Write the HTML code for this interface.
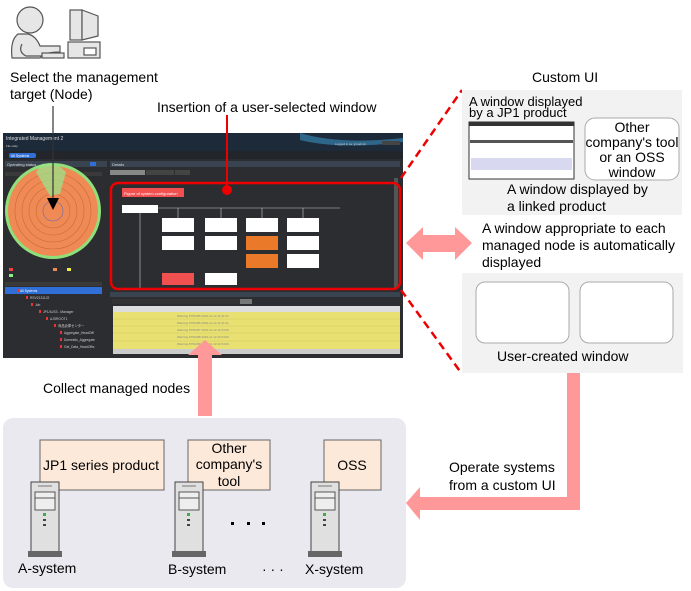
<!DOCTYPE html>
<html><head><meta charset="utf-8"><style>
body{margin:0;background:#fff;}
svg{display:block;font-family:"Liberation Sans",Arial,sans-serif;}
</style></head><body>
<svg width="691" height="591" viewBox="0 0 691 591" xmlns="http://www.w3.org/2000/svg">
<g stroke="#555" stroke-width="1.2" fill="#e6e6e6">
<circle cx="30" cy="20" r="13"/>
<path d="M18 34 Q10 40 12 58 L40 58 Q44 52 60 52 L60 46 L40 46 Q36 36 28 34 Z"/>
<path d="M22 44 Q18 52 26 56 L44 56" fill="none"/>
<rect x="42" y="53" width="22" height="5"/>
<rect x="70" y="10" width="12" height="30"/>
<path d="M82 10 L98 16 L98 36 L82 40 Z"/>
<rect x="68" y="42" width="32" height="16"/>
<rect x="84" y="48" width="12" height="7" fill="#fff"/>
</g>
<g font-size="14" fill="#000">
<text x="10" y="82">Select the management</text>
<text x="10" y="99">target  (Node)</text>
<text x="157" y="112">Insertion of a user-selected window</text>
<text x="532" y="82">Custom UI</text>
<text x="43" y="393">Collect managed nodes</text>
</g>
<rect x="3" y="133" width="400" height="225" fill="#2b2d30"/>
<rect x="3" y="133" width="400" height="18" fill="#1d2a3a"/>
<path d="M300 133 Q340 145 403 138 L403 142 Q340 150 300 140Z" fill="#3a8fc0" opacity=".6"/>
<text x="6" y="140" font-size="5" fill="#ddd">Integrated Management 2</text>
<text x="6" y="147" font-size="3" fill="#ccc">File   Help</text>
<text x="335" y="145" font-size="3" fill="#ccc">Logged in as: jp1admin</text>
<rect x="382" y="141" width="18" height="4" fill="#444"/>
<rect x="3" y="151" width="400" height="8" fill="#22262a"/>
<rect x="9" y="153" width="27" height="5" rx="2" fill="#2f6fd6"/>
<text x="11" y="157" font-size="3.5" fill="#fff">All Systems</text>
<rect x="5" y="161" width="102" height="6" fill="#3a4450"/>
<text x="7" y="166" font-size="4" fill="#ddd">Operating status</text>
<rect x="90" y="162" width="6" height="4" fill="#2f6fd6"/>
<rect x="5" y="172" width="97" height="4" fill="#3a3a3a"/>
<rect x="110" y="161" width="290" height="6" fill="#3a4450"/>
<text x="112" y="166" font-size="4" fill="#ddd">Details</text>
<rect x="110" y="170" width="35" height="5" fill="#888"/>
<rect x="146" y="170" width="28" height="5" fill="#444"/>
<rect x="175" y="170" width="15" height="5" fill="#444"/>
<circle cx="53" cy="211" r="48" fill="#8fe07a"/>
<circle cx="53" cy="211" r="45" fill="#f08a55"/>
<g fill="none" stroke="#c8683c" stroke-width=".6">
<circle cx="53" cy="211" r="38"/><circle cx="53" cy="211" r="31"/><circle cx="53" cy="211" r="24"/><circle cx="53" cy="211" r="17"/>
</g>
<path d="M36 172 L42 164 L50 163 L58 165 L66 172 L60 194 L50 196Z" fill="#9be18a" opacity=".75"/>
<circle cx="53" cy="211" r="10" fill="#f08a55" stroke="#6a6ab0" stroke-width=".6"/>
<rect x="9" y="268" width="4" height="3" fill="#e44"/><rect x="53" y="268" width="4" height="3" fill="#f08a55"/><rect x="67" y="268" width="4" height="3" fill="#ee4"/><rect x="9" y="274" width="4" height="3" fill="#8e8"/>
<rect x="5" y="282" width="97" height="4" fill="#3a3a3a"/>
<rect x="5" y="287" width="97" height="7" fill="#2f6fd6"/>
<g fill="#ccc" font-size="3.3">
<text x="20" y="292" fill="#fff">All Systems</text>
<text x="30" y="299">RSV2131122</text><text x="35" y="306">Job</text><text x="43" y="313">JP1/AJS3 - Manager</text>
<text x="50" y="320">AJSROOT1</text><text x="58" y="327">商品倉庫センター</text>
<text x="64" y="334">Aggregate_HeadOffi</text><text x="64" y="341">Domestic_Aggregate</text><text x="64" y="348">Get_Data_HeadOffic</text>
</g>
<g fill="#e33"><rect x="18" y="289" width="2" height="3"/><rect x="26" y="296" width="2" height="3"/><rect x="31" y="303" width="2" height="3"/><rect x="39" y="310" width="2" height="3"/><rect x="46" y="317" width="2" height="3"/><rect x="54" y="324" width="2" height="3"/><rect x="60" y="331" width="2" height="3"/><rect x="60" y="338" width="2" height="3"/><rect x="60" y="345" width="2" height="3"/></g>
<rect x="122" y="188" width="62" height="9" fill="#f05050"/>
<text x="124" y="195" font-size="4" fill="#fff">Figure of system configuration</text>
<g fill="#fff">
<rect x="122" y="205" width="36" height="8"/>
<rect x="162" y="218" width="32" height="14"/><rect x="162" y="236" width="32" height="14"/>
<rect x="205" y="218" width="32" height="14"/><rect x="205" y="236" width="32" height="14"/>
<rect x="246" y="218" width="32" height="14"/>
<rect x="287" y="218" width="32" height="14"/><rect x="287" y="236" width="32" height="14"/><rect x="287" y="254" width="32" height="14"/>
<rect x="205" y="273" width="32" height="12"/>
</g>
<rect x="246" y="236" width="32" height="14" fill="#ea7a2a"/><rect x="246" y="254" width="32" height="14" fill="#ea7a2a"/>
<rect x="162" y="273" width="32" height="12" fill="#f05050"/>
<g stroke="#ccc" stroke-width=".6" fill="none"><path d="M158 208 H340 M178 208 V218 M221 208 V218 M262 208 V218 M303 208 V218 M140 213 V290"/></g>
<rect x="394" y="178" width="4" height="110" fill="#555"/>
<rect x="110" y="292" width="290" height="5" fill="#3a4450"/>
<rect x="112" y="299" width="140" height="5" fill="#333"/>
<rect x="240" y="299" width="12" height="5" fill="#777"/>
<rect x="113" y="306" width="287" height="6" fill="#ddd"/>
<rect x="113" y="312" width="287" height="37" fill="#e8e070"/>
<g stroke="#c8c060" stroke-width=".4"><path d="M113 319 H400 M113 326 H400 M113 333 H400 M113 341 H400"/></g>
<g fill="#888" font-size="3">
<text x="177" y="317">Warning   6751085   2019-11-13 11:41:01</text><text x="177" y="324">Warning   6751086   2019-11-13 11:41:01</text>
<text x="177" y="331">Warning   6751087   2019-11-13 11:54:00</text><text x="177" y="338">Warning   6751088   2019-11-13 11:54:00</text><text x="177" y="345">Warning   6751089   2019-11-13 11:54:00</text>
</g>
<rect x="113" y="349" width="287" height="5" fill="#ccc"/>
<rect x="111" y="183" width="289" height="106" rx="7" fill="none" stroke="#e00" stroke-width="2.5"/>
<line x1="227" y1="115" x2="227" y2="190" stroke="#e00" stroke-width="2"/>
<circle cx="227" cy="190" r="5" fill="#e00"/>
<line x1="53" y1="106" x2="53" y2="198" stroke="#333" stroke-width="1.2"/>
<path d="M47 198 L59 198 L53 210Z" fill="#000"/>
<g stroke="#e00" stroke-width="2.5" stroke-dasharray="8,5"><line x1="401" y1="178" x2="462" y2="90"/><line x1="401" y1="290" x2="462" y2="374"/></g>
<rect x="462" y="90" width="220" height="125" fill="#f2f2f2"/>
<text x="469" y="106" font-size="13">A window displayed</text>
<text x="469" y="117" font-size="13">by a JP1 product</text>
<rect x="469" y="122" width="105" height="57" fill="#fff" stroke="#333" stroke-width="1"/>
<rect x="469" y="122" width="105" height="4" fill="#333"/>
<rect x="470" y="140" width="103" height="3" fill="#555"/>
<rect x="471" y="158" width="101" height="12" fill="#d8d8f0"/>
<rect x="585" y="118" width="94" height="62" rx="10" fill="#fff" stroke="#aaa"/>
<g font-size="14" text-anchor="middle"><text x="632" y="132">Other</text><text x="632" y="147">company's tool</text><text x="632" y="162">or an OSS</text><text x="632" y="177">window</text></g>
<g font-size="14"><text x="507" y="194">A window displayed by</text><text x="507" y="211">a linked product</text>
<text x="482" y="233">A window appropriate to each</text><text x="482" y="250">managed node is automatically</text><text x="482" y="267">displayed</text></g>
<rect x="462" y="273" width="221" height="100" fill="#f2f2f2"/>
<rect x="476" y="282" width="93" height="61" rx="9" fill="#fff" stroke="#aaa"/>
<rect x="580" y="282" width="93" height="61" rx="9" fill="#fff" stroke="#aaa"/>
<text x="497" y="361" font-size="14">User-created window</text>
<path d="M406 243 L423 227 L423 235 L455 235 L455 227 L472 243 L455 260 L455 252 L423 252 L423 260Z" fill="#f99"/>
<path d="M567 373 H580 V510 H420 V520 L406 503 L420 487 V497 H567Z" fill="#f99"/>
<path d="M198 416 V355 H188 L205 340 L222 355 H212 V416Z" fill="#f99"/>
<g font-size="14"><text x="449" y="472">Operate systems</text><text x="449" y="490">from a custom UI</text></g>
<rect x="3" y="418" width="403" height="170" rx="10" fill="#ebe9f0"/>
<g fill="#fde9d9" stroke="#666"><rect x="40" y="440" width="124" height="50"/><rect x="188" y="440" width="82" height="50"/><rect x="324" y="440" width="57" height="50"/></g>
<g font-size="14" text-anchor="middle"><text x="101" y="470">JP1 series product</text>
<text x="229" y="453">Other</text><text x="229" y="469">company's</text><text x="229" y="486">tool</text><text x="352" y="470">OSS</text></g>
<g id="srv">
<rect x="31" y="482" width="28" height="70" fill="#e0e0e0" stroke="#444"/>
<rect x="35" y="492" width="20" height="18" fill="#eee" stroke="#555"/><line x1="35" y1="498" x2="55" y2="498" stroke="#555"/>
<line x1="38" y1="486" x2="52" y2="486" stroke="#777"/>
<rect x="43" y="513" width="3" height="3" fill="#4a4"/><rect x="43" y="519" width="3" height="2" fill="#444"/><rect x="43" y="524" width="3" height="2" fill="#444"/>
<rect x="28" y="551" width="34" height="6" fill="#666"/>
</g>
<use href="#srv" x="144"/><use href="#srv" x="280"/>
<g fill="#000"><rect x="231" y="522" width="3" height="3"/><rect x="247" y="522" width="3" height="3"/><rect x="262" y="522" width="3" height="3"/></g>
<g font-size="14"><text x="18" y="573">A-system</text><text x="168" y="574">B-system</text><text x="262" y="574">· · ·</text><text x="305" y="574">X-system</text></g>
</svg>
</body></html>
